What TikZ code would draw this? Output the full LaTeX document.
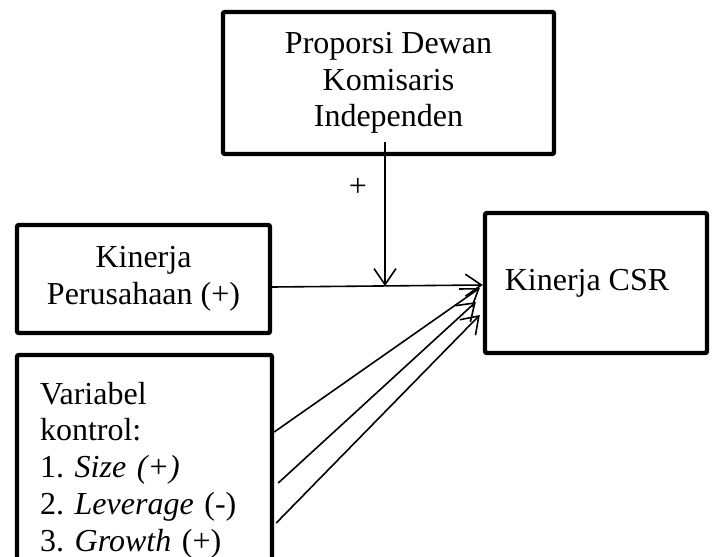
\documentclass[tikz,border=0pt]{standalone}
\usepackage{fontspec}
\setmainfont{Liberation Serif}
\usetikzlibrary{arrows.meta}
\frenchspacing

\tikzset{
	box/.style={draw, line width=2.2pt, rounded corners=1pt, align=center, inner sep=0pt},
	link/.style={line width=0.8pt, -{Straight Barb[length=8pt,width=11pt]}},
}

\begin{document}
\begin{tikzpicture}[x=0.5pt, y=-0.5pt, font=\fontsize{16}{18.4}\selectfont]
	
	\path[use as bounding box, clip] (0,0) rectangle (715,556);
	
	\node[box, minimum width=165.5pt, minimum height=71pt] (dki) at (388.5,83) {Proporsi Dewan\\Komisaris\\Independen};
	\node[box, minimum width=126.5pt, minimum height=54pt] (kp) at (143.5,279) {Kinerja\\Perusahaan (+)};
	\node[box, minimum width=111pt, minimum height=70pt] (csr) at (596,283) {\hspace*{-9pt}\raisebox{-2.5pt}{Kinerja CSR}};
	\node[box, align=left, text width=104.5pt, minimum width=127.5pt, minimum height=115pt] (ctrl) at (144.5,470)
		{Variabel\\kontrol:\\1. \textit{Size (+)}\\2. \textit{Leverage} (-)\\3. \textit{Growth} (+)};
	\node (plus) at (358,187) {+};
	
	\coordinate (join) at (385,286);
	\draw[link] ([xshift=-1.75pt,yshift=7pt]dki.south) -- (join);
	\draw[link] ([yshift=-4pt]kp.east) -- ([yshift=-1pt]csr.west);
	
	\draw[link] ([yshift=19pt]ctrl.east) -- ([shift={(-1.5pt,-2.5pt)}]csr.west);
	\draw[link] ([xshift=2pt,yshift=-6.5pt]ctrl.east) -- ([shift={(-3.5pt,-9.5pt)}]csr.west);
	\draw[link] ([xshift=1pt,yshift=-26.5pt]ctrl.east) -- ([shift={(-1.5pt,-16pt)}]csr.west);
	
\end{tikzpicture}
\end{document}
